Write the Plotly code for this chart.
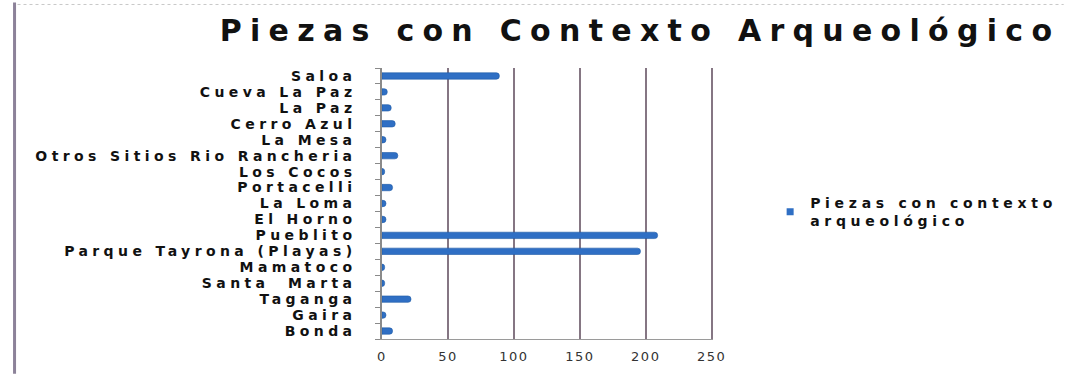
import plotly.graph_objects as go

categories = ["Saloa", "Cueva La Paz", "La Paz", "Cerro Azul", "La Mesa",
              "Otros Sitios Rio Rancheria", "Los Cocos", "Portacelli", "La Loma",
              "El Horno", "Pueblito", "Parque Tayrona (Playas)", "Mamatoco",
              "Santa  Marta", "Taganga", "Gaira", "Bonda"]
values = [89, 4, 7, 10, 3, 12, 2, 8, 3, 3, 209, 196, 2, 2, 22, 3, 8]
x_ticks = [0, 50, 100, 150, 200, 250]
title_text = "Piezas con Contexto Arqueológico"
series_name = "Piezas con contexto<br>arqueológico"

BLUE = "#2f6fc4"
GRID = "#857683"


def spaced(t, ls):
    return f'<span style="letter-spacing:{ls}px">{t}</span>'


fig = go.Figure()
fig.add_trace(go.Bar(
    x=values, y=categories, orientation="h", width=0.4,
    marker=dict(color=BLUE, line=dict(color="#1f5aa6", width=0.6), cornerradius=3),
    showlegend=False,
))
# legend entry (small square marker)
fig.add_trace(go.Scatter(
    x=[None], y=[None], mode="markers",
    marker=dict(symbol="square", size=7, color=BLUE),
    name=spaced(series_name.replace("<br>", '</span><br><span style="letter-spacing:4.7px">'), 4.7),
    showlegend=True,
))

L, R, T, B = 382, 356, 68, 35
W = 1074 - L - R
H = 376 - T - B


def px_x(p):
    return (p - L) / W


def px_y(p):
    return (376 - B - p) / H


fig.update_layout(
    width=1074, height=376,
    margin=dict(l=L, r=R, t=T, b=B),
    paper_bgcolor="white", plot_bgcolor="white",
    title=dict(text=spaced(title_text, 8.3), x=0.5 * (214 + 1066) / 1074, xanchor="center",
               y=1 - 30 / 376, yanchor="middle",
               font=dict(family="DejaVu Sans", size=30, color="#111111", weight="bold")),
    legend=dict(x=px_x(776), y=px_y(213), xanchor="left", yanchor="middle",
                font=dict(family="DejaVu Sans", size=14, color="#111111", weight="bold"),
                bgcolor="rgba(0,0,0,0)", itemwidth=30),
    xaxis=dict(range=[0, 251], tickvals=x_ticks,
               ticktext=[spaced(str(v), 1.5) for v in x_ticks],
               showgrid=True, gridcolor=GRID, gridwidth=2,
               showline=True, linecolor="#9a9a9a", linewidth=1,
               zeroline=False, ticks="", ticklabelstandoff=5,
               tickfont=dict(family="DejaVu Sans", size=13, color="#333333")),
    yaxis=dict(type="category", categoryorder="array", categoryarray=categories,
               autorange="reversed",
               tickvals=categories, ticktext=[spaced(c, 4.4) for c in categories],
               showline=True, linecolor="#8a8a8a", linewidth=1.5,
               ticks="outside", ticklen=5, tickcolor="#8a8a8a", tickson="boundaries",
               ticklabelstandoff=21, showgrid=False,
               tickfont=dict(family="DejaVu Sans", size=14, color="#111111", weight="bold")),
    shapes=[
        dict(type="line", xref="paper", yref="paper",
             x0=px_x(9), x1=px_x(9), y0=px_y(2), y1=px_y(376),
             line=dict(color="#8c8299", width=3)),
        dict(type="line", xref="paper", yref="paper",
             x0=px_x(12), x1=px_x(1074), y0=px_y(4), y1=px_y(4),
             line=dict(color="#c8c8c8", width=1, dash="dot")),
    ],
)

fig.write_html("out.html")
